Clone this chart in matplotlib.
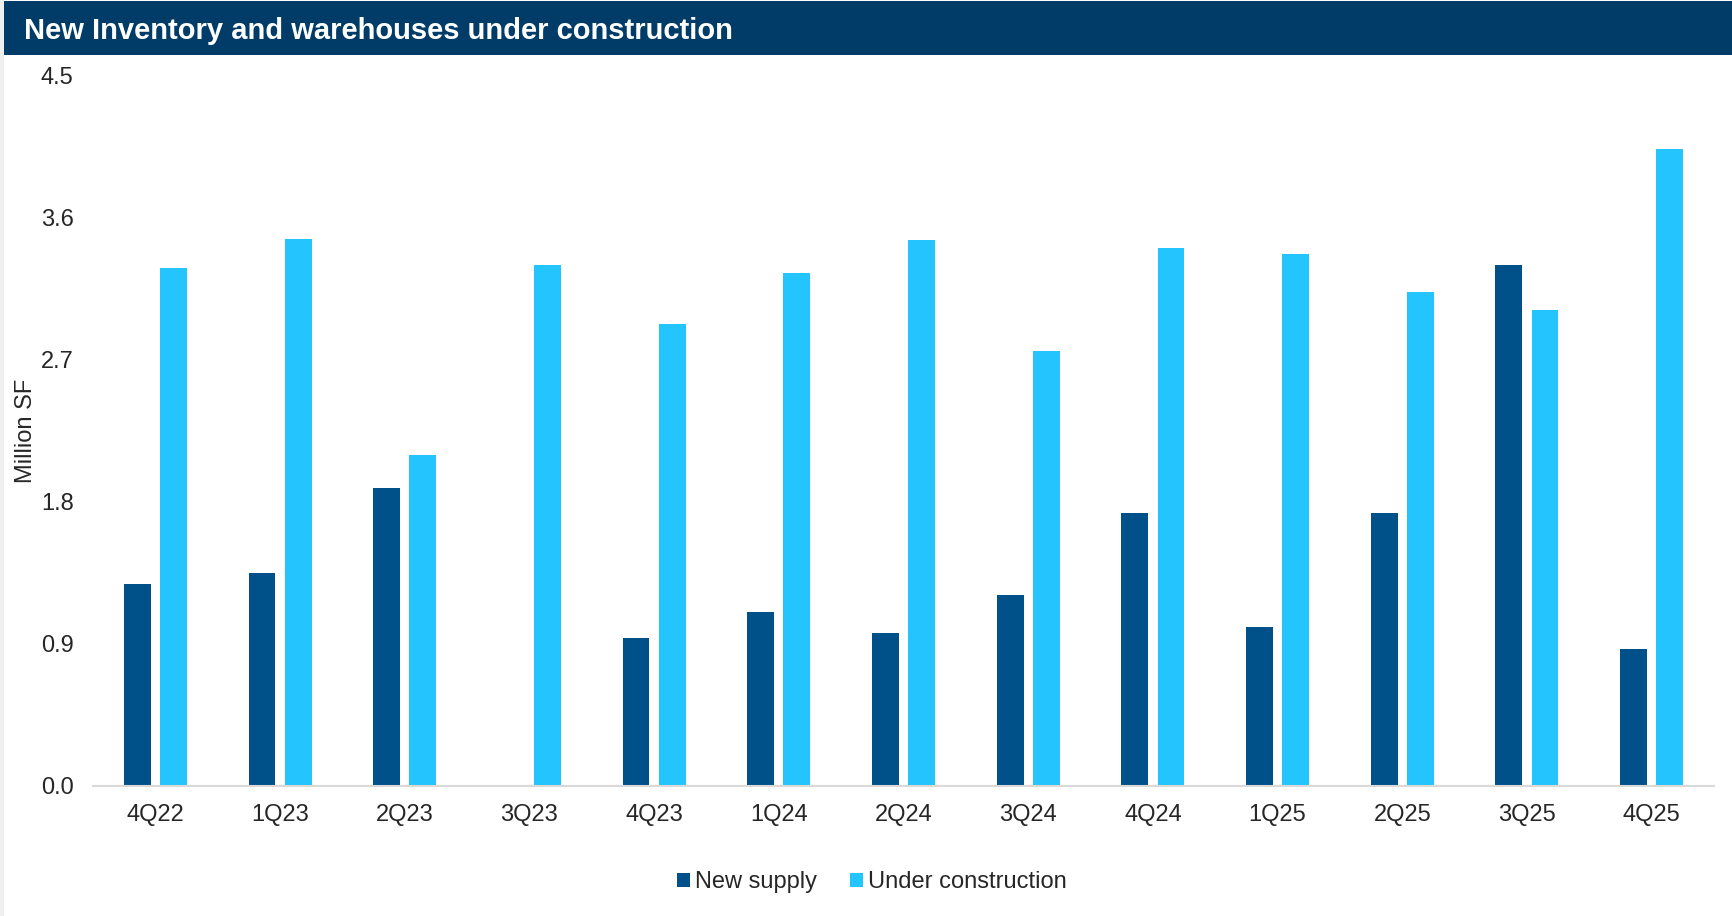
import matplotlib.pyplot as plt
import matplotlib.patches as mpatches
import numpy as np

plt.rcParams['font.family'] = ['Liberation Sans', 'DejaVu Sans']

quarters = ["4Q22", "1Q23", "2Q23", "3Q23", "4Q23", "1Q24", "2Q24",
            "3Q24", "4Q24", "1Q25", "2Q25", "3Q25", "4Q25"]
new_supply = [1.28, 1.35, 1.89, 0.0, 0.94, 1.10, 0.97, 1.21, 1.73, 1.01, 1.73, 3.30, 0.87]
under_construction = [3.28, 3.47, 2.10, 3.30, 2.93, 3.25, 3.46, 2.76, 3.41, 3.37, 3.13, 3.02, 4.04]
y_ticks = [0.0, 0.9, 1.8, 2.7, 3.6, 4.5]

dark_blue = "#00508A"
light_blue = "#24C5FF"
text_color = "#262626"

fig = plt.figure(figsize=(17.32, 9.16), dpi=100)
fig.patch.set_facecolor("white")

# header band and thin gray strip on the left
fig.add_artist(mpatches.Rectangle((0.0023, 1 - 55 / 916), 1, 54 / 916, transform=fig.transFigure,
                                  facecolor="#003C67", edgecolor="none"))
fig.add_artist(mpatches.Rectangle((0, 0), 0.0023, 1, transform=fig.transFigure,
                                  facecolor="#F0F0F0", edgecolor="none"))
fig.text(24 / 1732, 1 - 39 / 916, "New Inventory and warehouses under construction",
         color="white", fontsize=21, fontweight="bold", va="baseline", ha="left")

ax = fig.add_axes([93 / 1732, 1 - 786 / 916, (1714 - 93) / 1732, (786 - 76) / 916])
x = np.arange(len(quarters))
w = 0.215
off = 0.145
ax.bar(x - off, new_supply, w, color=dark_blue, label="New supply")
ax.bar(x + off, under_construction, w, color=light_blue, label="Under construction")

ax.set_xlim(-0.5, len(quarters) - 0.5)
ax.set_ylim(0, 4.5)
ax.set_yticks(y_ticks)
ax.set_yticklabels([f"{t:.1f}" for t in y_ticks])
ax.set_xticks(x)
ax.set_xticklabels(quarters)
ax.tick_params(axis="both", length=0, labelsize=17, labelcolor=text_color)
ax.tick_params(axis="x", pad=13)
ax.tick_params(axis="y", pad=14)
ax.set_ylabel("Million SF", fontsize=17, color=text_color)
ax.yaxis.set_label_coords(37.5 / 1732, 1 - 431 / 916, transform=fig.transFigure)
ax.yaxis.label.set_va("bottom")

for side in ["top", "right", "left"]:
    ax.spines[side].set_visible(False)
ax.spines["bottom"].set_color("#D9D9D9")
ax.spines["bottom"].set_linewidth(1.5)

ax.legend(loc="center", bbox_to_anchor=(872 / 1732, 1 - 882 / 916), bbox_transform=fig.transFigure,
          ncol=2, frameon=False, fontsize=17, handlelength=0.55, handleheight=0.55,
          handletextpad=0.2, columnspacing=1.4, labelcolor=text_color)

fig.savefig("out.png", dpi=100)
